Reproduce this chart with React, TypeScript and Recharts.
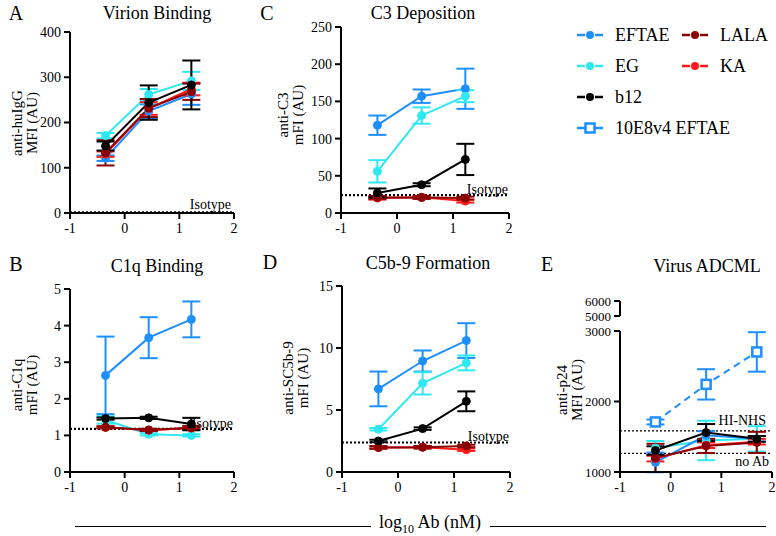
import React from "react";
import { LineChart, Line, XAxis, YAxis, ReferenceLine, ErrorBar } from "recharts";

// log10 concentrations
const conc = [-0.35, 0.44, 1.22];
const concE = [-0.3, 0.7, 1.7];
const xTicks = [-1, 0, 1, 2];

// A: Virion Binding
const aEFTAE = [121, 225, 263];
const aEFTAEErr = [6, 15, 24];
const aEG = [171, 262, 292];
const aEGErr = [6, 12, 20];
const aB12 = [148, 244, 283];
const aB12Err = [10, 38, 54];
const aLALA = [133, 232, 268];
const aLALAErr = [28, 20, 18];
const aKA = [130, 231, 274];
const aKAErr = [6, 14, 14];
const aIsotype = 1.5;

// C: C3 Deposition
const cEFTAE = [118, 157, 167];
const cEFTAEErr = [13, 9, 27];
const cEG = [56, 131, 157];
const cEGErr = [15, 11, 8];
const cB12 = [27, 38, 72];
const cB12Err = [6, 2, 21];
const cLALA = [21, 21, 20];
const cLALAErr = [2, 2, 2];
const cKA = [20, 21, 16];
const cKAErr = [2, 2, 2];
const cIsotype = 24;

// B: C1q Binding
const bEFTAE = [2.64, 3.67, 4.17];
const bEFTAEErr = [1.06, 0.56, 0.49];
const bEG = [1.42, 1.03, 1.0];
const bEGErr = [0.1, 0.03, 0.03];
const bB12 = [1.46, 1.48, 1.31];
const bB12Err = [0.03, 0.03, 0.17];
const bLALA = [1.22, 1.15, 1.21];
const bLALAErr = [0.03, 0.03, 0.05];
const bKA = [1.22, 1.14, 1.2];
const bKAErr = [0.02, 0.02, 0.02];
const bIsotype = 1.18;

// D: C5b-9 Formation
const dEFTAE = [6.7, 8.95, 10.6];
const dEFTAEErr = [1.4, 0.85, 1.4];
const dEG = [3.45, 7.15, 8.8];
const dEGErr = [0.1, 0.9, 0.6];
const dB12 = [2.5, 3.5, 5.7];
const dB12Err = [0.1, 0.1, 0.8];
const dLALA = [1.98, 2.0, 2.1];
const dLALAErr = [0.1, 0.1, 0.1];
const dKA = [1.98, 2.0, 1.8];
const dKAErr = [0.1, 0.1, 0.1];
const dIsotype = 2.38;

// E: Virus ADCML
const e10E8 = [1710, 2243, 2703];
const e10E8Err = [35, 215, 280];
const eEFTAE = [1136, 1520, 1470];
const eEFTAEErr = [140, 60, 40];
const eEG = [1340, 1447, 1470];
const eEGErr = [100, 280, 180];
const eB12 = [1305, 1560, 1470];
const eB12Err = [60, 120, 40];
const eLALA = [1200, 1370, 1420];
const eLALAErr = [200, 100, 150];
const eKA = [1190, 1380, 1430];
const eKAErr = [40, 40, 40];
const eHINHS = 1583;
const eNoAb = 1263;
const eLysis = 5350;

const BLUE = "#1e8fff";
const CYAN = "#2ee8f2";
const DARKRED = "#8b0000";
const RED = "#ff1a1a";
const BLACK = "#000000";
const FONT = "'Liberation Serif', 'Times New Roman', serif";

type S = { name: string; color: string; xs: number[]; values: number[]; errors: number[]; dashed?: boolean; square?: boolean };
type R = { y: number; label: string; pos: "insideBottomRight" | "insideTopRight"; thin?: boolean; offset?: number };

const mk = (name: string, color: string, xs: number[], values: number[], errors: number[], extra = {}) =>
  ({ name, color, xs, values, errors, ...extra } as S);

const Y_W = 44;
const M_TOP = 10;
const M_RIGHT = 14;
const X_H = 28;

const tickStyle = { fill: "#000", fontSize: 14, fontFamily: FONT };
const axisLine = { stroke: "#000", strokeWidth: 2 };

const SquareDot = (props: any) => {
  const { cx, cy, stroke } = props;
  if (cx == null || cy == null) return null;
  return <rect x={cx - 4.5} y={cy - 4.5} width={9} height={9} fill="#fff" stroke={stroke} strokeWidth={2.5} />;
};

function Panel(props: {
  plotLeft: number; plotTop: number; plotW: number; plotH: number;
  domain: number[]; ticks: number[]; series: S[]; refs: R[]; tickSizeY?: number;
}) {
  const { plotLeft, plotTop, plotW, plotH, domain, ticks, series, refs, tickSizeY } = props;
  return (
    <div style={{ position: "absolute", left: plotLeft - Y_W, top: plotTop - M_TOP }}>
      <LineChart width={Y_W + plotW + M_RIGHT} height={M_TOP + plotH + X_H} margin={{ top: M_TOP, right: M_RIGHT, left: 0, bottom: 0 }}>
        <XAxis type="number" dataKey="x" domain={[-1, 2]} ticks={xTicks} allowDataOverflow height={X_H}
          tick={tickStyle} axisLine={axisLine} tickLine={axisLine} tickSize={6} tickMargin={4} interval={0} />
        <YAxis type="number" dataKey="y" domain={domain} ticks={ticks} allowDataOverflow width={Y_W}
          tick={{ ...tickStyle, fontSize: tickSizeY ?? 14 }} axisLine={axisLine} tickLine={axisLine} tickSize={6} tickMargin={3} interval={0} />
        {refs.map((r) => (
          <ReferenceLine key={r.label} y={r.y} stroke="#000" strokeWidth={r.thin ? 1.3 : 2.2}
            strokeDasharray="2 2"
            label={{ value: r.label, position: r.pos, offset: r.offset ?? 3, fill: "#000", fontSize: 14, fontFamily: FONT }} />
        ))}
        {series.map((s) => (
          <Line key={s.name} name={s.name} data={s.xs.map((x, i) => ({ x, y: s.values[i], err: s.errors[i] }))}
            dataKey="y" stroke={s.color} strokeWidth={2} strokeDasharray={s.dashed ? "7 5" : undefined}
            dot={s.square ? <SquareDot /> : { r: 4, fill: s.color, stroke: s.color, strokeWidth: 1 }}
            isAnimationActive={false}>
            <ErrorBar dataKey="err" width={9} stroke={s.color} strokeWidth={2} direction="y" />
          </Line>
        ))}
      </LineChart>
    </div>
  );
}

const Text = ({ x, y, size, children }: any) => (
  <div style={{ position: "absolute", left: x, top: y, transform: "translate(-50%, -50%)", fontSize: size, fontFamily: FONT, whiteSpace: "nowrap", color: "#000", lineHeight: 1 }}>
    {children}
  </div>
);

const YLabel = ({ x, y, lines }: { x: number; y: number; lines: string[] }) => (
  <div style={{ position: "absolute", left: x, top: y, transform: "translate(-50%, -50%) rotate(-90deg)", fontSize: 15, fontFamily: FONT, textAlign: "center", lineHeight: "15px", whiteSpace: "nowrap", color: "#000" }}>
    {lines.map((l) => <div key={l}>{l}</div>)}
  </div>
);

const legendItems = [
  { name: "EFTAE", color: BLUE, x: 577, y: 35 },
  { name: "LALA", color: DARKRED, x: 682, y: 35 },
  { name: "EG", color: CYAN, x: 577, y: 66 },
  { name: "KA", color: RED, x: 682, y: 66 },
  { name: "b12", color: BLACK, x: 577, y: 97 },
  { name: "10E8v4 EFTAE", color: BLUE, x: 577, y: 128, square: true },
];

export default function App() {
  const A = [mk("EFTAE", BLUE, conc, aEFTAE, aEFTAEErr), mk("EG", CYAN, conc, aEG, aEGErr), mk("KA", RED, conc, aKA, aKAErr), mk("LALA", DARKRED, conc, aLALA, aLALAErr), mk("b12", BLACK, conc, aB12, aB12Err)];
  const C = [mk("EFTAE", BLUE, conc, cEFTAE, cEFTAEErr), mk("EG", CYAN, conc, cEG, cEGErr), mk("KA", RED, conc, cKA, cKAErr), mk("LALA", DARKRED, conc, cLALA, cLALAErr), mk("b12", BLACK, conc, cB12, cB12Err)];
  const B = [mk("EFTAE", BLUE, conc, bEFTAE, bEFTAEErr), mk("EG", CYAN, conc, bEG, bEGErr), mk("KA", RED, conc, bKA, bKAErr), mk("LALA", DARKRED, conc, bLALA, bLALAErr), mk("b12", BLACK, conc, bB12, bB12Err)];
  const D = [mk("EFTAE", BLUE, conc, dEFTAE, dEFTAEErr), mk("EG", CYAN, conc, dEG, dEGErr), mk("KA", RED, conc, dKA, dKAErr), mk("LALA", DARKRED, conc, dLALA, dLALAErr), mk("b12", BLACK, conc, dB12, dB12Err)];
  const E = [
    mk("10E8v4 EFTAE", BLUE, concE, e10E8, e10E8Err, { dashed: true, square: true }),
    mk("EG", CYAN, concE, eEG, eEGErr), mk("EFTAE", BLUE, concE, eEFTAE, eEFTAEErr),
    mk("KA", RED, concE, eKA, eKAErr), mk("LALA", DARKRED, concE, eLALA, eLALAErr), mk("b12", BLACK, concE, eB12, eB12Err),
  ];

  return (
    <div style={{ position: "absolute", left: 0, top: 0, width: 776, height: 536, background: "#fff", overflow: "hidden", fontFamily: FONT }}>
      <style>{`svg text, .recharts-text { font-family: 'Liberation Serif', 'Times New Roman', serif !important; }`}</style>
      <Text x={16} y={13} size={20}>A</Text>
      <Text x={157} y={13} size={18}>Virion Binding</Text>
      <Text x={267} y={13} size={20}>C</Text>
      <Text x={423} y={13} size={18}>C3 Deposition</Text>
      <Text x={16} y={264} size={20}>B</Text>
      <Text x={157} y={266} size={18}>C1q Binding</Text>
      <Text x={270} y={262} size={20}>D</Text>
      <Text x={428} y={263} size={18}>C5b-9 Formation</Text>
      <Text x={547} y={264} size={20}>E</Text>
      <Text x={707} y={266} size={18}>Virus ADCML</Text>

      <YLabel x={25} y={123} lines={["anti-huIgG", "MFI (AU)"]} />
      <YLabel x={291} y={115} lines={["anti-C3", "mFI (AU)"]} />
      <YLabel x={25} y={385} lines={["anti-C1q", "mFI (AU)"]} />
      <YLabel x={296} y={378} lines={["anti-SC5b-9", "mFI (AU)"]} />
      <YLabel x={570} y={390} lines={["anti-p24", "MFI (AU)"]} />

      <Panel plotLeft={70} plotTop={32} plotW={164} plotH={181} domain={[0, 400]} ticks={[0, 100, 200, 300, 400]}
        series={A} refs={[{ y: aIsotype, label: "Isotype", pos: "insideBottomRight" }]} />
      <Panel plotLeft={341} plotTop={27} plotW={168} plotH={186} domain={[0, 250]} ticks={[0, 50, 100, 150, 200, 250]}
        series={C} refs={[{ y: cIsotype, label: "Isotype", pos: "insideBottomRight", offset: 1 }]} />
      <Panel plotLeft={70} plotTop={289} plotW={164} plotH={183} domain={[0, 5]} ticks={[0, 1, 2, 3, 4, 5]}
        series={B} refs={[{ y: bIsotype, label: "Isotype", pos: "insideBottomRight", offset: 1 }]} />
      <Panel plotLeft={342} plotTop={286} plotW={168} plotH={186} domain={[0, 15]} ticks={[0, 5, 10, 15]}
        series={D} refs={[{ y: dIsotype, label: "Isotype", pos: "insideBottomRight", offset: 1 }]} />
      <Panel plotLeft={620} plotTop={331} plotW={152} plotH={141} domain={[1000, 3000]} ticks={[1000, 2000, 3000]} tickSizeY={13}
        series={E} refs={[
          { y: eHINHS, label: "HI-NHS", pos: "insideBottomRight", thin: true, offset: 6 },
          { y: eNoAb, label: "no Ab", pos: "insideTopRight", thin: true, offset: 3 },
        ]} />

      {/* E: upper segment of the broken axis */}
      <div style={{ position: "absolute", left: 620 - Y_W, top: 301 - 8 }}>
        <LineChart width={Y_W + 152 + M_RIGHT} height={15 + 16} margin={{ top: 8, right: M_RIGHT, left: 0, bottom: 8 }}>
          <XAxis type="number" dataKey="x" domain={[-1, 2]} hide />
          <YAxis type="number" domain={[5000, 6000]} ticks={[5000, 6000]} allowDataOverflow width={Y_W}
            tick={{ ...tickStyle, fontSize: 13 }} axisLine={axisLine} tickLine={axisLine} tickSize={6} tickMargin={3} interval={0} />
          <ReferenceLine y={eLysis} stroke="#000" strokeWidth={1.3} strokeDasharray="2 2"
            label={{ value: "100% lysis", position: "insideBottomRight", offset: 2, fill: "#000", fontSize: 14, fontFamily: FONT }} />
        </LineChart>
      </div>

      {/* legend */}
      {legendItems.map((it) => (
        <div key={it.name} style={{ position: "absolute", left: it.x, top: it.y - 10, height: 20, display: "flex", alignItems: "center" }}>
          <svg width={26} height={20}>
            <line x1={0} y1={10} x2={8} y2={10} stroke={it.color} strokeWidth={2.5} />
            <line x1={18} y1={10} x2={26} y2={10} stroke={it.color} strokeWidth={2.5} />
            {it.square
              ? <rect x={8.5} y={5.5} width={9} height={9} fill="#fff" stroke={it.color} strokeWidth={2.5} />
              : <circle cx={13} cy={10} r={4} fill={it.color} />}
          </svg>
          <span style={{ marginLeft: 12, fontSize: 18, fontFamily: FONT, color: "#000" }}>{it.name}</span>
        </div>
      ))}

      {/* shared x label */}
      <div style={{ position: "absolute", left: 75, top: 526, width: 296, borderTop: "1px solid #000" }} />
      <div style={{ position: "absolute", left: 490, top: 526, width: 276, borderTop: "1px solid #000" }} />
      <Text x={430} y={524} size={18}>log<sub style={{ fontSize: 12 }}>10</sub> Ab (nM)</Text>
    </div>
  );
}
